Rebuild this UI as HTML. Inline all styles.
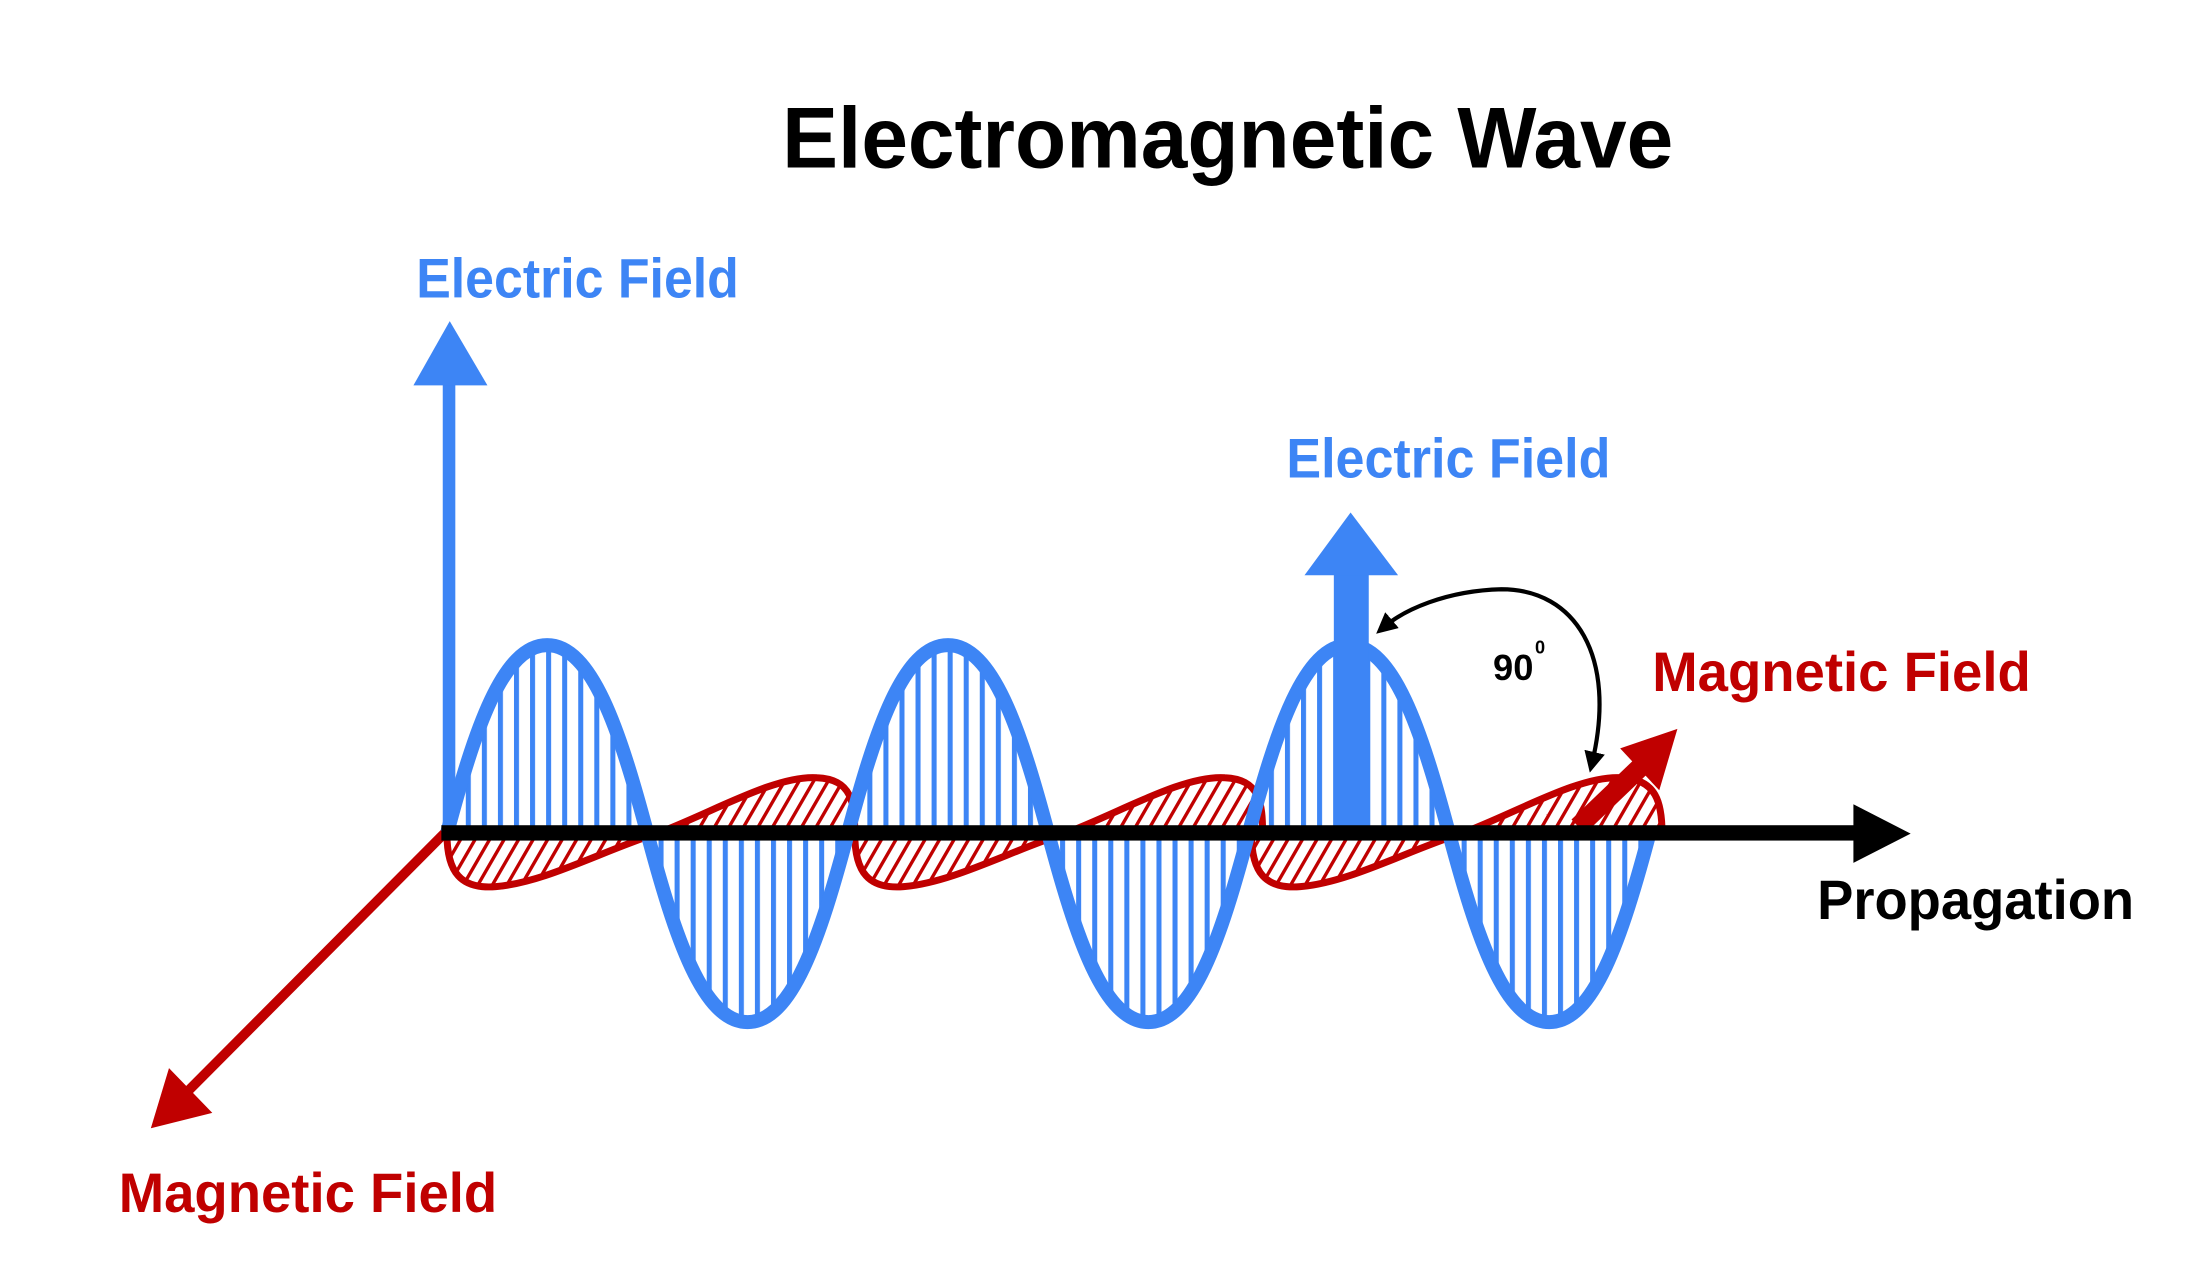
<!DOCTYPE html>
<html><head><meta charset="utf-8"><style>
html,body{margin:0;padding:0;background:#fff;}
svg{display:block;}
text{font-family:"Liberation Sans",sans-serif;font-weight:bold;}
</style></head><body>
<svg width="2190" height="1286" viewBox="0 0 1568 921" preserveAspectRatio="none" xmlns="http://www.w3.org/2000/svg">
<defs>
<pattern id="vh" patternUnits="userSpaceOnUse" width="11.5" height="20">
<rect x="0" y="0" width="3.6" height="20" fill="#3d85f5"/>
</pattern>
<pattern id="dh" patternUnits="userSpaceOnUse" width="9" height="20" patternTransform="rotate(30)">
<rect x="0" y="0" width="2.4" height="20" fill="#c00000"/>
</pattern>
<marker id="ah" viewBox="0 0 10 10" refX="5" refY="5" markerWidth="5" markerHeight="5" orient="auto-start-reverse">
<path d="M0,0 L10,5 L0,10 z" fill="#000"/>
</marker>
</defs>
<rect width="1568" height="921" fill="#fff"/>

<text x="560" y="120" font-size="62" textLength="638" lengthAdjust="spacingAndGlyphs" fill="#000">Electromagnetic  Wave</text>

<path d="M320 597
c 20 -75 40 -135 71.75 -135 c 31.75 0 51.75 60 71.75 135 c 20 75 40 135 71.75 135 c 31.75 0 51.75 -60 71.75 -135
c 20 -75 40 -135 71.75 -135 c 31.75 0 51.75 60 71.75 135 c 20 75 40 135 71.75 135 c 31.75 0 51.75 -60 71.75 -135
c 20 -75 40 -135 71.75 -135 c 31.75 0 51.75 60 71.75 135 c 20 75 40 135 71.75 135 c 31.75 0 51.75 -60 71.75 -135 Z" fill="url(#vh)" stroke="none"/>

<g fill="#fff" stroke="none">
<path d="M320 597 C320 625,330 637,355 635 C390 632,430 610,470 597 C510 582,555 555,585 557 C610 558,612 575,612 597 Z"/>
<path d="M612 597 C612 625,622 637,647 635 C682 632,722 610,762 597 C802 582,847 555,877 557 C902 558,904 575,904 597 Z"/>
<path d="M896 597 C896 625,906 637,931 635 C966 632,1006 610,1046 597 C1086 582,1131 555,1161 557 C1186 558,1190 575,1190 597 Z"/>
</g>
<g fill="url(#dh)" stroke="#c00000" stroke-width="5">
<path d="M320 597 C320 625,330 637,355 635 C390 632,430 610,470 597 C510 582,555 555,585 557 C610 558,612 575,612 597 Z"/>
<path d="M612 597 C612 625,622 637,647 635 C682 632,722 610,762 597 C802 582,847 555,877 557 C902 558,904 575,904 597 Z"/>
<path d="M896 597 C896 625,906 637,931 635 C966 632,1006 610,1046 597 C1086 582,1131 555,1161 557 C1186 558,1190 575,1190 597 Z"/>
</g>

<path d="M320 597
c 20 -75 40 -135 71.75 -135 c 31.75 0 51.75 60 71.75 135 c 20 75 40 135 71.75 135 c 31.75 0 51.75 -60 71.75 -135
c 20 -75 40 -135 71.75 -135 c 31.75 0 51.75 60 71.75 135 c 20 75 40 135 71.75 135 c 31.75 0 51.75 -60 71.75 -135
c 20 -75 40 -135 71.75 -135 c 31.75 0 51.75 60 71.75 135 c 20 75 40 135 71.75 135 c 31.75 0 51.75 -60 71.75 -135" fill="none" stroke="#3d85f5" stroke-width="10"/>

<rect x="317" y="272" width="9" height="325" fill="#3d85f5"/>
<polygon points="322,230 349,276 296,276" fill="#3d85f5"/>
<text x="298" y="213" font-size="40" textLength="231" lengthAdjust="spacingAndGlyphs" fill="#3d85f5">Electric Field</text>

<rect x="955" y="410" width="25" height="187" fill="#3d85f5"/>
<polygon points="967,367 1001,412 934,412" fill="#3d85f5"/>
<text x="921" y="342" font-size="40" textLength="232" lengthAdjust="spacingAndGlyphs" fill="#3d85f5">Electric Field</text>

<line x1="1130" y1="592" x2="1178" y2="546" stroke="#c00000" stroke-width="14"/>
<polygon points="1201,522 1160,536 1188,566" fill="#c00000"/>
<text x="1183" y="495" font-size="40" textLength="271" lengthAdjust="spacingAndGlyphs" fill="#c00000">Magnetic Field</text>

<line x1="318" y1="597" x2="132" y2="784" stroke="#c00000" stroke-width="7"/>
<polygon points="108,808 121,765 152,797" fill="#c00000"/>
<text x="85" y="868" font-size="40" textLength="271" lengthAdjust="spacingAndGlyphs" fill="#c00000">Magnetic Field</text>

<rect x="316" y="591" width="1015" height="11" fill="#000"/>
<polygon points="1368,597 1327,576 1327,618" fill="#000"/>
<text x="1301" y="658" font-size="40" textLength="227" lengthAdjust="spacingAndGlyphs" fill="#000">Propagation</text>

<path d="M1140 546 C1158 470,1128 422,1075 422 C1035 423,1005 437,991 449" fill="none" stroke="#000" stroke-width="3" marker-start="url(#ah)" marker-end="url(#ah)"/>
<text x="1069" y="487" font-size="26" fill="#000">90</text>
<text x="1099" y="468" font-size="13" fill="#000">0</text>
</svg>
</body></html>
